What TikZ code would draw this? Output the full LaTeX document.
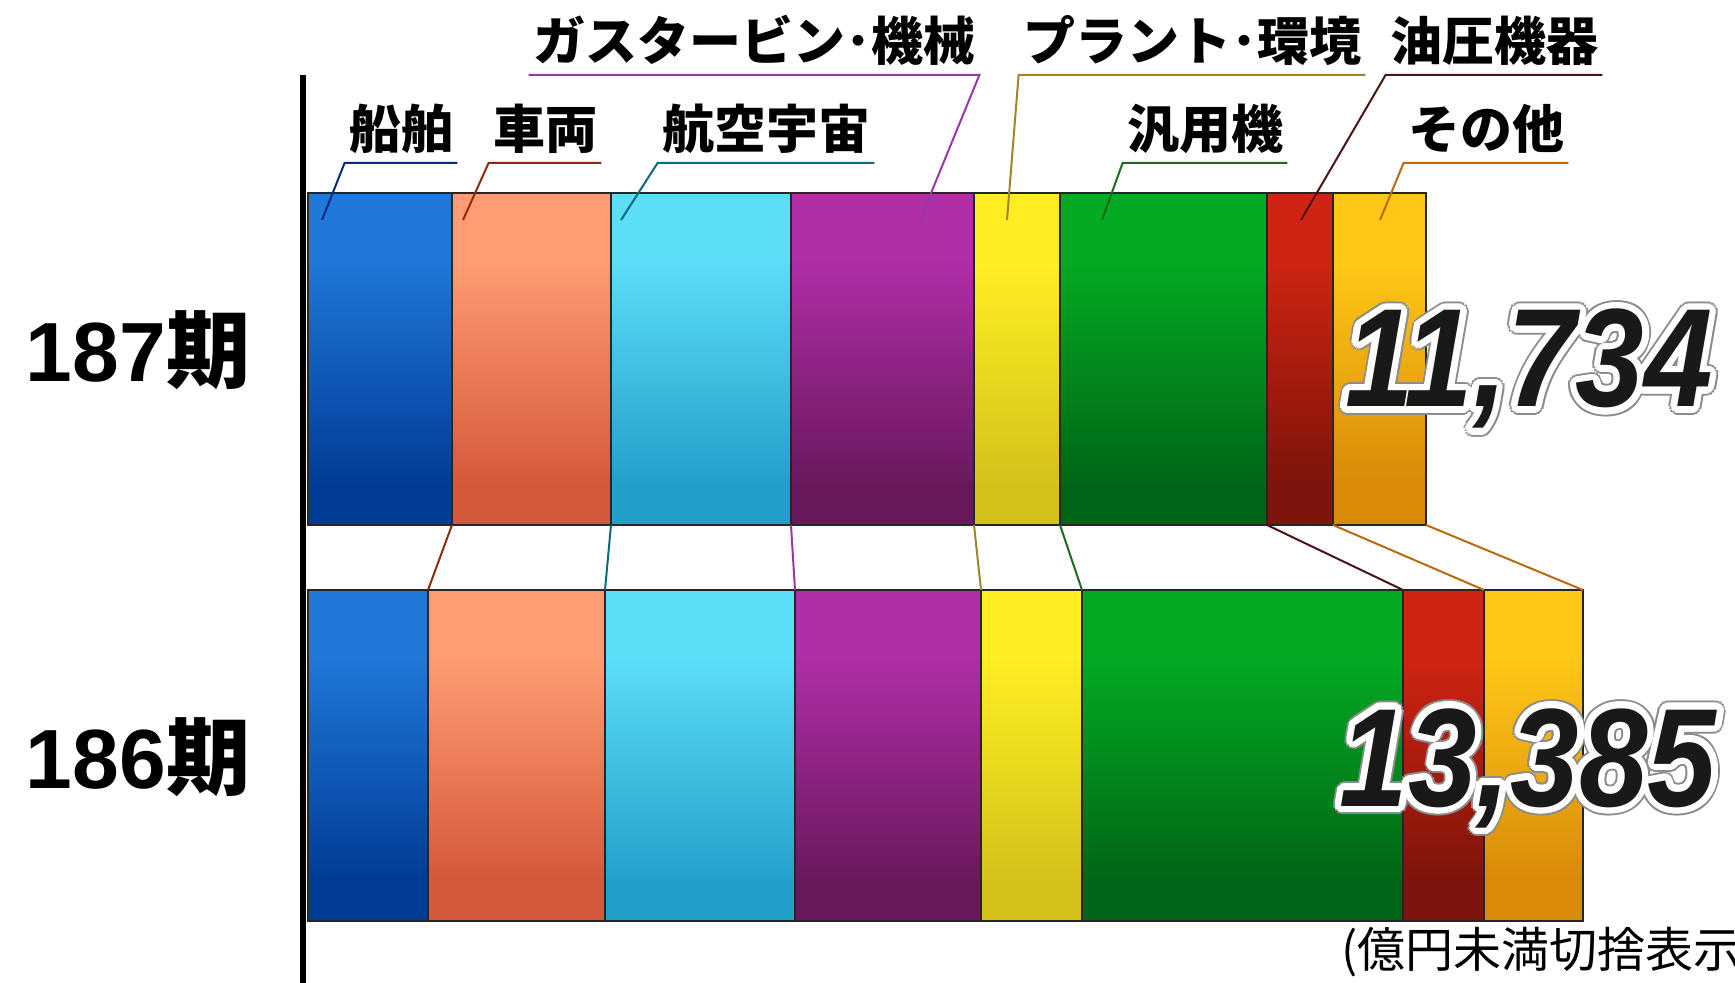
\documentclass[tikz,border=0pt]{standalone}
\usepackage{fontspec}
\usepackage{tikz}
\setmainfont{Liberation Sans}
\newfontfamily\jp{Noto Sans CJK JP}
\newfontfamily\numfont{Liberation Sans}

% bar colours (light top, dark bottom)
\definecolor{blueL}{RGB}{32,120,216}   \definecolor{blueD}{RGB}{0,60,150}
\definecolor{salmL}{RGB}{255,156,114}  \definecolor{salmD}{RGB}{212,88,58}
\definecolor{cyanL}{RGB}{92,221,248}   \definecolor{cyanD}{RGB}{34,160,202}
\definecolor{purpL}{RGB}{176,46,168}   \definecolor{purpD}{RGB}{106,24,92}
\definecolor{yellL}{RGB}{255,238,34}   \definecolor{yellD}{RGB}{210,194,26}
\definecolor{grenL}{RGB}{4,170,34}     \definecolor{grenD}{RGB}{0,102,22}
\definecolor{redL}{RGB}{208,36,18}     \definecolor{redD}{RGB}{126,20,10}
\definecolor{orngL}{RGB}{255,200,22}   \definecolor{orngD}{RGB}{216,138,8}
% line colours
\definecolor{lnBlue}{RGB}{10,42,128}
\definecolor{lnSalm}{RGB}{140,42,16}
\definecolor{lnCyan}{RGB}{10,106,128}
\definecolor{lnPurp}{RGB}{150,56,168}
\definecolor{lnYell}{RGB}{160,132,40}
\definecolor{lnGren}{RGB}{30,106,30}
\definecolor{lnRed}{RGB}{74,20,20}
\definecolor{lnOrng}{RGB}{190,104,12}

\newcommand{\barshade}[3]{\pgfdeclareverticalshading{#1}{100bp}{color(0bp)=(#3); color(31bp)=(#3); color(65bp)=(#2); color(100bp)=(#2)}}
\barshade{shBlue}{blueL}{blueD}
\barshade{shSalm}{salmL}{salmD}
\barshade{shCyan}{cyanL}{cyanD}
\barshade{shPurp}{purpL}{purpD}
\barshade{shYell}{yellL}{yellD}
\barshade{shGren}{grenL}{grenD}
\barshade{shRed}{redL}{redD}
\barshade{shOrng}{orngL}{orngD}

\newcommand{\bnum}[1]{\scalebox{0.88}[1]{#1}}

\tikzset{
  lbl/.style={anchor=south, inner xsep=2pt, inner ysep=0pt, text depth=7pt,
    font=\jp\bfseries\fontsize{26}{30}\selectfont},
  period/.style={anchor=base, inner sep=0pt, font=\numfont\bfseries\fontsize{42}{50}\selectfont},
  bignum/.style={anchor=base, inner sep=0pt, font=\numfont\bfseries\itshape\fontsize{70}{80}\selectfont},
  segline/.style={line width=0.6pt, draw=black!85},
  lead/.style={line width=1pt}
}

\begin{document}
\begin{tikzpicture}[x=0.5pt,y=0.5pt,yscale=-1,xscale=1]
\clip (0,0) rectangle (1735,983);

% 187 bar
\foreach \xa/\xb/\sh in {308/452/shBlue, 452/611/shSalm, 611/791/shCyan, 791/974/shPurp,
  974/1060/shYell, 1060/1267/shGren, 1267/1333/shRed, 1333/1426/shOrng}
  \shadedraw[shading=\sh, segline] (\xa,193) rectangle (\xb,525);

% 186 bar
\foreach \xa/\xb/\sh in {308/428/shBlue, 428/605/shSalm, 605/795/shCyan, 795/981/shPurp,
  981/1082/shYell, 1082/1403/shGren, 1403/1484/shRed, 1484/1583/shOrng}
  \shadedraw[shading=\sh, segline] (\xa,590) rectangle (\xb,921);

% segment edges
\foreach \xt/\xb [count=\i] in {452/428, 611/605, 791/795, 974/981, 1060/1082, 1267/1403, 1333/1484, 1426/1583}{
  \coordinate (t\i) at (\xt,525);
  \coordinate (b\i) at (\xb,590);
}

% connectors between the bars
\foreach \i/\c in {1/lnSalm, 2/lnCyan, 3/lnPurp, 4/lnYell, 5/lnGren, 6/lnRed, 7/lnOrng, 8/lnOrng}
  \draw[\c, lead] (t\i) -- (b\i);

% axis
\draw[line width=3pt] (303,75) -- (303,983);

% labels
\node[lbl] (senpaku) at (401,163) {船舶};
\node[lbl] (sharyo) at (545,163) {車両};
\node[lbl] (koku) at (766,163) {航空宇宙};
\node[lbl] (gas) at (754,75) {ガスタービン･機械};
\node[lbl] (plant) at (1192,75) {プラント･環境};
\node[lbl] (hanyo) at (1205,163) {汎用機};
\node[lbl] (yuatsu) at (1494,75) {油圧機器};
\node[lbl] (sonota) at (1486,163) {その他};

% leader ends in the 187 bar
\coordinate (e1) at (322,220);
\coordinate (e2) at (463,220);
\coordinate (e3) at (621,220);
\coordinate (e4) at (920,220);
\coordinate (e5) at (1007,220);
\coordinate (e6) at (1102,220);
\coordinate (e7) at (1301,220);
\coordinate (e8) at (1380,220);

% leaders
\draw[lnBlue, lead] (e1) -- (senpaku.south west) -- (senpaku.south east);
\draw[lnSalm, lead] (e2) -- (sharyo.south west) -- (sharyo.south east);
\draw[lnCyan, lead] (e3) -- (koku.south west) -- (koku.south east);
\draw[lnPurp, lead] (e4) -- (gas.south east) -- (gas.south west);
\draw[lnYell, lead] (e5) -- (plant.south west) -- (plant.south east);
\draw[lnGren, lead] (e6) -- (hanyo.south west) -- (hanyo.south east);
\draw[lnRed, lead] (e7) -- (yuatsu.south west) -- (yuatsu.south east);
\draw[lnOrng, lead] (e8) -- (sonota.south west) -- (sonota.south east);

% periods
\node[period] (p187) at (138,382) {187{\jp\bfseries 期}};
\node[period] (p186) at (138,788) {186{\jp\bfseries 期}};

% totals, grey rim then white outline
\coordinate (s187) at (1529,407);
\coordinate (s186) at (1528,806);
\foreach \a in {0,20,...,340}{
  \node[bignum, text=black!45] (g187\a) at ([shift={(\a:8.5)}]s187) {\bnum{11,734}};
  \node[bignum, text=black!45] (g186\a) at ([shift={(\a:8.5)}]s186) {\bnum{13,385}};
}
\foreach \a in {0,15,...,345}{
  \node[bignum, text=white] (w187\a) at ([shift={(\a:6.5)}]s187) {\bnum{11,734}};
  \node[bignum, text=white] (w186\a) at ([shift={(\a:6.5)}]s186) {\bnum{13,385}};
}
\node[bignum, text=black!90] (v187) at (s187) {\bnum{11,734}};
\node[bignum, text=black!90] (v186) at (s186) {\bnum{13,385}};

% note
\node[anchor=west, inner sep=0pt, font=\jp\fontsize{24}{28}\selectfont] (note) at (1341,952) {(億円未満切捨表示)};

\end{tikzpicture}
\end{document}
